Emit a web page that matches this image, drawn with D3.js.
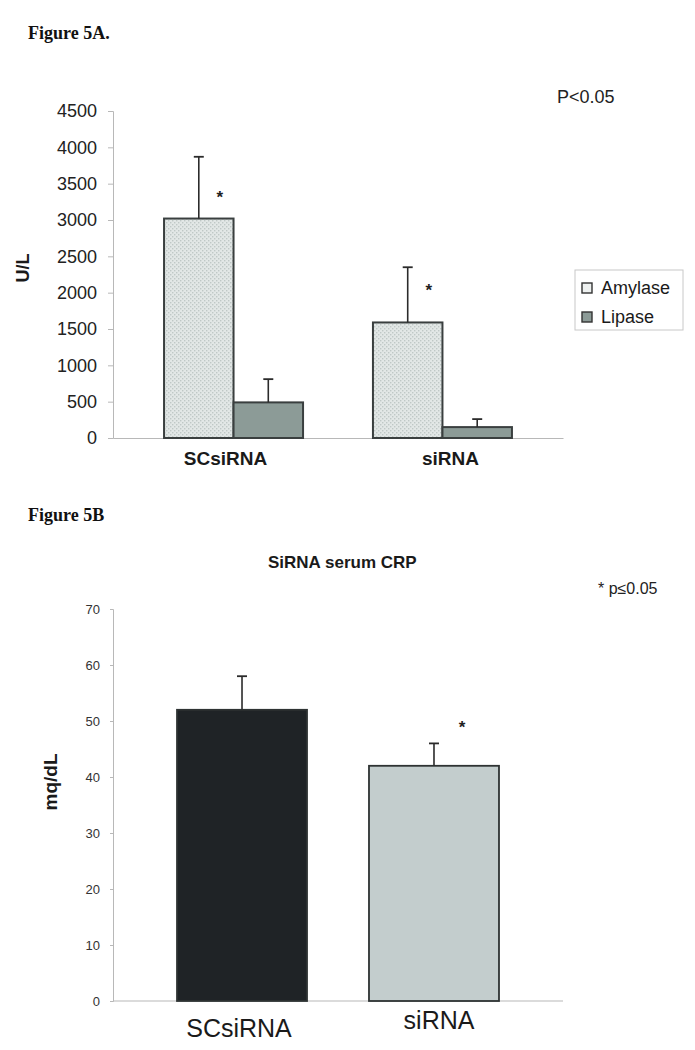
<!DOCTYPE html>
<html>
<head>
<meta charset="utf-8">
<script src="https://cdn.jsdelivr.net/npm/d3@7"></script>
<style>
  body { margin: 0; background: #fff; }
  svg { display: block; }
</style>
</head>
<body>
<svg class="target"></svg>
<script>
// Figure 5A data
const groupsA = ["SCsiRNA", "siRNA"];
const seriesA = ["Amylase", "Lipase"];
const amylaseMean = [3020, 1590];
const amylaseErr = [850, 760];
const lipaseMean = [490, 150];
const lipaseErr = [320, 110];
const starA = [3350, 2070];
const ticksA = [0, 500, 1000, 1500, 2000, 2500, 3000, 3500, 4000, 4500];

// Figure 5B data
const groupsB = ["SCsiRNA", "siRNA"];
const crpMean = [52, 42];
const crpErr = [6, 4];
const starB = [null, 49.3];
const ticksB = [0, 10, 20, 30, 40, 50, 60, 70];

document.addEventListener("DOMContentLoaded", function() {
    drawFigure();
});

function errorBar(g, x, yTop, yEnd) {
    g.append("line")
        .attr("x1", x).attr("x2", x)
        .attr("y1", yTop).attr("y2", yEnd)
        .attr("stroke", "#2b2b2b").attr("stroke-width", 1.6);
    g.append("line")
        .attr("x1", x - 5).attr("x2", x + 5)
        .attr("y1", yEnd).attr("y2", yEnd)
        .attr("stroke", "#2b2b2b").attr("stroke-width", 1.8);
}

function drawFigure() {
    const width = 695;
    const height = 1050;
    const svg = d3.select(".target")
        .attr("viewBox", [0, 0, width, height])
        .attr("width", width)
        .attr("height", height);

    // hatch pattern for amylase bars
    const defs = svg.append("defs");
    const pat = defs.append("pattern")
        .attr("id", "dots")
        .attr("width", 4).attr("height", 4)
        .attr("patternUnits", "userSpaceOnUse");
    pat.append("rect").attr("width", 4).attr("height", 4).attr("fill", "#e2e7e6");
    pat.append("rect").attr("width", 1.4).attr("height", 1.4).attr("fill", "#bfc8c6");
    pat.append("rect").attr("x", 2).attr("y", 2).attr("width", 1.4).attr("height", 1.4).attr("fill", "#bfc8c6");

    const serif = "'Liberation Serif', 'DejaVu Serif', serif";
    const sans = "'Liberation Sans', Arial, sans-serif";

    // ---------- Figure 5A ----------
    svg.append("text")
        .attr("x", 28).attr("y", 39)
        .attr("font-family", serif).attr("font-weight", "bold")
        .attr("font-size", 18).attr("fill", "#111")
        .text("Figure 5A.");

    const xA = d3.scaleBand().domain(groupsA).range([113, 563]);
    const xAc = d3.scalePoint().domain(groupsA).range([113, 563]).padding(0.577);
    const yA = d3.scaleLinear().domain([0, 4500]).range([438, 111]);
    const barW = 69.5;

    const gA = svg.append("g");

    gA.append("g")
        .attr("transform", "translate(113,0)")
        .call(d3.axisLeft(yA).tickValues(ticksA).tickFormat(d3.format("d")).tickSize(5).tickPadding(11))
        .call(g => g.selectAll(".domain").attr("stroke", "#b8b8b8"))
        .call(g => g.selectAll(".tick line").attr("stroke", "#b8b8b8"))
        .call(g => g.selectAll("text")
            .attr("font-family", sans).attr("font-size", 18).attr("fill", "#222"));

    gA.append("g")
        .attr("transform", "translate(0,438)")
        .call(d3.axisBottom(xA).tickSize(0).tickPadding(14))
        .call(g => g.select(".domain").attr("stroke", "#b8b8b8").attr("stroke-width", 1.2))
        .call(g => g.selectAll("text")
            .attr("font-family", sans).attr("font-size", 19)
            .attr("font-weight", "bold").attr("fill", "#1a1a1a"));

    gA.append("text")
        .attr("transform", "translate(29,268) rotate(-90)")
        .attr("text-anchor", "middle")
        .attr("font-family", sans).attr("font-weight", "bold")
        .attr("font-size", 18).attr("fill", "#1a1a1a")
        .text("U/L");

    groupsA.forEach(function(grp, i) {
        const cx = xAc(grp);
        // amylase
        gA.append("rect")
            .attr("x", cx - barW).attr("y", yA(amylaseMean[i]))
            .attr("width", barW).attr("height", yA(0) - yA(amylaseMean[i]))
            .attr("fill", "url(#dots)")
            .attr("stroke", "#3a3f3f").attr("stroke-width", 2);
        // lipase
        gA.append("rect")
            .attr("x", cx).attr("y", yA(lipaseMean[i]))
            .attr("width", barW).attr("height", yA(0) - yA(lipaseMean[i]))
            .attr("fill", "#8c9b97")
            .attr("stroke", "#3a3f3f").attr("stroke-width", 2);
        errorBar(gA, cx - barW / 2, yA(amylaseMean[i]), yA(amylaseMean[i] + amylaseErr[i]));
        errorBar(gA, cx + barW / 2, yA(lipaseMean[i]), yA(lipaseMean[i] + lipaseErr[i]));
        gA.append("text")
            .attr("x", cx - barW / 2 + 21).attr("y", yA(starA[i]) + 8)
            .attr("text-anchor", "middle")
            .attr("font-family", sans).attr("font-weight", "bold")
            .attr("font-size", 17).attr("fill", "#222")
            .text("*");
    });

    gA.append("text")
        .attr("x", 557).attr("y", 103)
        .attr("font-family", sans).attr("font-size", 18).attr("fill", "#222")
        .text("P<0.05");

    // legend
    const leg = gA.append("g");
    leg.append("rect")
        .attr("x", 575).attr("y", 270).attr("width", 108).attr("height", 60)
        .attr("fill", "#fff").attr("stroke", "#c8c8c8").attr("stroke-width", 1);
    const legFill = ["#eef1f0", "#8c9b97"];
    seriesA.forEach(function(s, i) {
        const ly = 288 + i * 29;
        leg.append("rect")
            .attr("x", 582).attr("y", ly - 5).attr("width", 10).attr("height", 10)
            .attr("fill", legFill[i]).attr("stroke", "#333").attr("stroke-width", 1.4);
        leg.append("text")
            .attr("x", 601).attr("y", ly + 6)
            .attr("font-family", sans).attr("font-size", 18).attr("fill", "#1a1a1a")
            .text(s);
    });

    // ---------- Figure 5B ----------
    svg.append("text")
        .attr("x", 28).attr("y", 521)
        .attr("font-family", serif).attr("font-weight", "bold")
        .attr("font-size", 18).attr("fill", "#111")
        .text("Figure 5B");

    svg.append("text")
        .attr("x", 268).attr("y", 568)
        .attr("font-family", sans).attr("font-weight", "bold")
        .attr("font-size", 17).attr("fill", "#1a1a1a")
        .text("SiRNA serum CRP");

    svg.append("text")
        .attr("x", 598).attr("y", 594)
        .attr("font-family", sans).attr("font-size", 16).attr("fill", "#222")
        .text("* p\u22640.05");

    const xBc = d3.scalePoint().domain(groupsB).range([113, 563]).padding(0.672);
    const yB = d3.scaleLinear().domain([0, 70]).range([1001, 609]);
    const barWB = 130;
    const fillB = ["#1f2326", "#c3cdcd"];
    const labelX = [239, 439];
    const labelY = [1037, 1029];

    const gB = svg.append("g");

    gB.append("g")
        .attr("transform", "translate(113,0)")
        .call(d3.axisLeft(yB).tickValues(ticksB).tickSize(3).tickPadding(10))
        .call(g => g.selectAll(".domain").attr("stroke", "#b8b8b8"))
        .call(g => g.selectAll(".tick line").attr("stroke", "#b8b8b8"))
        .call(g => g.selectAll("text")
            .attr("font-family", sans).attr("font-size", 13).attr("fill", "#333"));

    gB.append("line")
        .attr("x1", 113).attr("x2", 563)
        .attr("y1", yB(0)).attr("y2", yB(0))
        .attr("stroke", "#b8b8b8").attr("stroke-width", 1.2);

    gB.append("text")
        .attr("transform", "translate(57,782) rotate(-90)")
        .attr("text-anchor", "middle")
        .attr("font-family", sans).attr("font-weight", "bold")
        .attr("font-size", 19).attr("fill", "#1a1a1a")
        .text("mq/dL");

    groupsB.forEach(function(grp, i) {
        const cx = xBc(grp);
        gB.append("rect")
            .attr("x", cx - barWB / 2).attr("y", yB(crpMean[i]))
            .attr("width", barWB).attr("height", yB(0) - yB(crpMean[i]))
            .attr("fill", fillB[i])
            .attr("stroke", "#2e3333").attr("stroke-width", 1.8);
        errorBar(gB, cx, yB(crpMean[i]), yB(crpMean[i] + crpErr[i]));
        if (starB[i] !== null) {
            gB.append("text")
                .attr("x", cx + 28).attr("y", yB(starB[i]) + 8)
                .attr("text-anchor", "middle")
                .attr("font-family", sans).attr("font-weight", "bold")
                .attr("font-size", 17).attr("fill", "#222")
                .text("*");
        }
        gB.append("text")
            .attr("x", labelX[i]).attr("y", labelY[i])
            .attr("text-anchor", "middle")
            .attr("font-family", sans).attr("font-size", 25).attr("fill", "#1a1a1a")
            .text(grp);
    });
}
</script>
</body>
</html>
